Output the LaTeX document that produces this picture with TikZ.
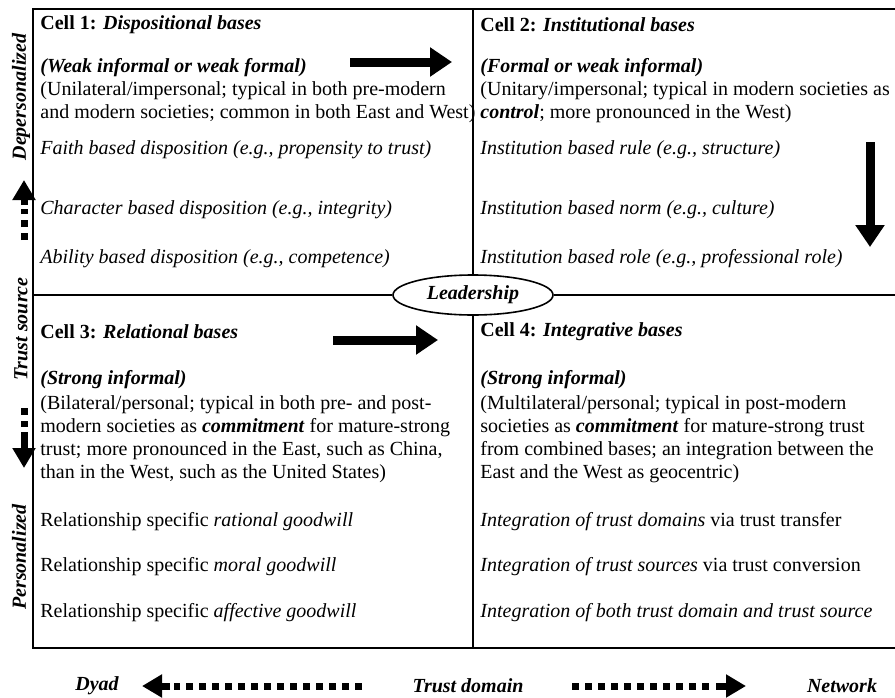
\documentclass[tikz,border=0pt]{standalone}
\usepackage{fontspec}
\setmainfont{Liberation Serif}
\usetikzlibrary{arrows.meta}
\usetikzlibrary{shapes.geometric}

\begin{document}
\begin{tikzpicture}[x=0.5pt,y=-0.5pt,>={Triangle[length=11pt,width=14pt]},every node/.style={inner sep=0pt,font=\fontsize{10}{11.5}\selectfont}]
\tikzstyle{txt} = [anchor=west, align=left]
\tikzstyle{axislbl} = [font=\fontsize{10}{11.5}\selectfont\bfseries\itshape]
\tikzstyle{frame} = [line width=0.8pt]
\tikzstyle{fat} = [->, line width=4.5pt]
\tikzstyle{dotline} = [line width=3.5pt, dash pattern=on 3.5pt off 3pt]
\tikzstyle{dothead} = [-{Triangle[length=10pt,width=11pt]}, line width=3.5pt]
\useasboundingbox (0,0) rectangle (895,697);

% frame corners
\coordinate (tl) at (33,9);
\coordinate (tr) at (895,9);
\coordinate (bl) at (33,648);
\coordinate (br) at (895,648);
\coordinate (ml) at (33,295);
\coordinate (mr) at (895,295);
\coordinate (vt) at (473,9);
\coordinate (vb) at (473,648);

\node[ellipse,draw,frame,fill=white,minimum width=80pt,minimum height=20pt,axislbl] (lead) at (473,295) {Leadership};

\draw[frame] (tr) -- (tl) -- (bl) -- (br);
\draw[frame] (ml) -- (lead.west);
\draw[frame] (lead.east) -- (mr);
\draw[frame] (vt) -- (lead.north);
\draw[frame] (lead.south) -- (vb);

% cell 1
\node[txt] (c1t) at (40,25) {\textbf{Cell 1:} \textbf{\textit{Dispositional bases}}};
\node[txt] (c1a) at (40,68) {\textbf{\textit{(Weak informal or weak formal)}}};
\node[txt] (c1b) at (40,102) {(Unilateral/impersonal; typical in both pre-modern\\and modern societies; common in both East and West)};
\node[txt] (c1c) at (40,150) {\textit{Faith based disposition (e.g., propensity to trust)}};
\node[txt] (c1d) at (40,210) {\textit{Character based disposition (e.g., integrity)}};
\node[txt] (c1e) at (40,259) {\textit{Ability based disposition (e.g., competence)}};

% cell 2
\node[txt] (c2t) at (480,25) {\textbf{Cell 2:} \textbf{\textit{Institutional bases}}};
\node[txt] (c2a) at (480,68) {\textbf{\textit{(Formal or weak informal)}}};
\node[txt] (c2b) at (480,102) {(Unitary/impersonal; typical in modern societies as\\\textbf{\textit{control}}; more pronounced in the West)};
\node[txt] (c2c) at (480,150) {\textit{Institution based rule (e.g., structure)}};
\node[txt] (c2d) at (480,210) {\textit{Institution based norm (e.g., culture)}};
\node[txt] (c2e) at (480,259) {\textit{Institution based role (e.g., professional role)}};

% cell 3
\node[txt] (c3t) at (40,332) {\textbf{Cell 3:} \textbf{\textit{Relational bases}}};
\node[txt] (c3a) at (40,380) {\textbf{\textit{(Strong informal)}}};
\node[txt] (c3b) at (40,439) {(Bilateral/personal; typical in both pre- and post-\\modern societies as \textbf{\textit{commitment}} for mature-strong\\trust; more pronounced in the East, such as China,\\than in the West, such as the United States)};
\node[txt] (c3c) at (40,522) {Relationship specific \textit{rational goodwill}};
\node[txt] (c3d) at (40,567) {Relationship specific \textit{moral goodwill}};
\node[txt] (c3e) at (40,613) {Relationship specific \textit{affective goodwill}};

% cell 4
\node[txt] (c4t) at (480,332) {\textbf{Cell 4:} \textbf{\textit{Integrative bases}}};
\node[txt] (c4a) at (480,380) {\textbf{\textit{(Strong informal)}}};
\node[txt] (c4b) at (480,439) {(Multilateral/personal; typical in post-modern\\societies as \textbf{\textit{commitment}} for mature-strong trust\\from combined bases; an integration between the\\East and the West as geocentric)};
\node[txt] (c4c) at (480,522) {\textit{Integration of trust domains} via trust transfer};
\node[txt] (c4d) at (480,567) {\textit{Integration of trust sources} via trust conversion};
\node[txt] (c4e) at (480,613) {\textit{Integration of both trust domain and trust source}};

% solid arrows
\coordinate (a1s) at (350,62);
\coordinate (a1e) at (452,62);
\coordinate (a2s) at (870,142);
\coordinate (a2e) at (870,247);
\coordinate (a3s) at (333,340);
\coordinate (a3e) at (438,340);
\draw[fat] (a1s) -- (a1e);
\draw[fat] (a2s) -- (a2e);
\draw[fat] (a3s) -- (a3e);

% trust source axis
\node[axislbl,rotate=90] (deper) at (21,97) {Depersonalized};
\node[axislbl,rotate=90] (tsrc) at (21,329) {Trust source};
\node[axislbl,rotate=90] (pers) at (19,557) {Personalized};
\coordinate (upS) at (24,240);
\coordinate (upM) at (24,209);
\coordinate (upH) at (24,205);
\coordinate (upE) at (24,180);
\coordinate (dnS) at (24,408);
\coordinate (dnM) at (24,427);
\coordinate (dnH) at (24,432);
\coordinate (dnE) at (24,468);
\draw[dotline] (upS) -- (upM);
\draw[dothead] (upH) -- (upE);
\draw[dotline] (dnS) -- (dnM);
\draw[dothead] (dnH) -- (dnE);

% trust domain axis
\node[axislbl] (dyad) at (97,686) {Dyad};
\node[axislbl] (tdom) at (468,686) {Trust domain};
\node[axislbl] (netw) at (842,686) {Network};
\coordinate (lfS) at (362,686);
\coordinate (lfM) at (174,686);
\coordinate (lfH) at (170,686);
\coordinate (lfE) at (142,686);
\coordinate (rtS) at (572,686);
\coordinate (rtM) at (712,686);
\coordinate (rtH) at (716,686);
\coordinate (rtE) at (746,686);
\draw[dotline] (lfS) -- (lfM);
\draw[dothead] (lfH) -- (lfE);
\draw[dotline] (rtS) -- (rtM);
\draw[dothead] (rtH) -- (rtE);
\end{tikzpicture}
\end{document}
